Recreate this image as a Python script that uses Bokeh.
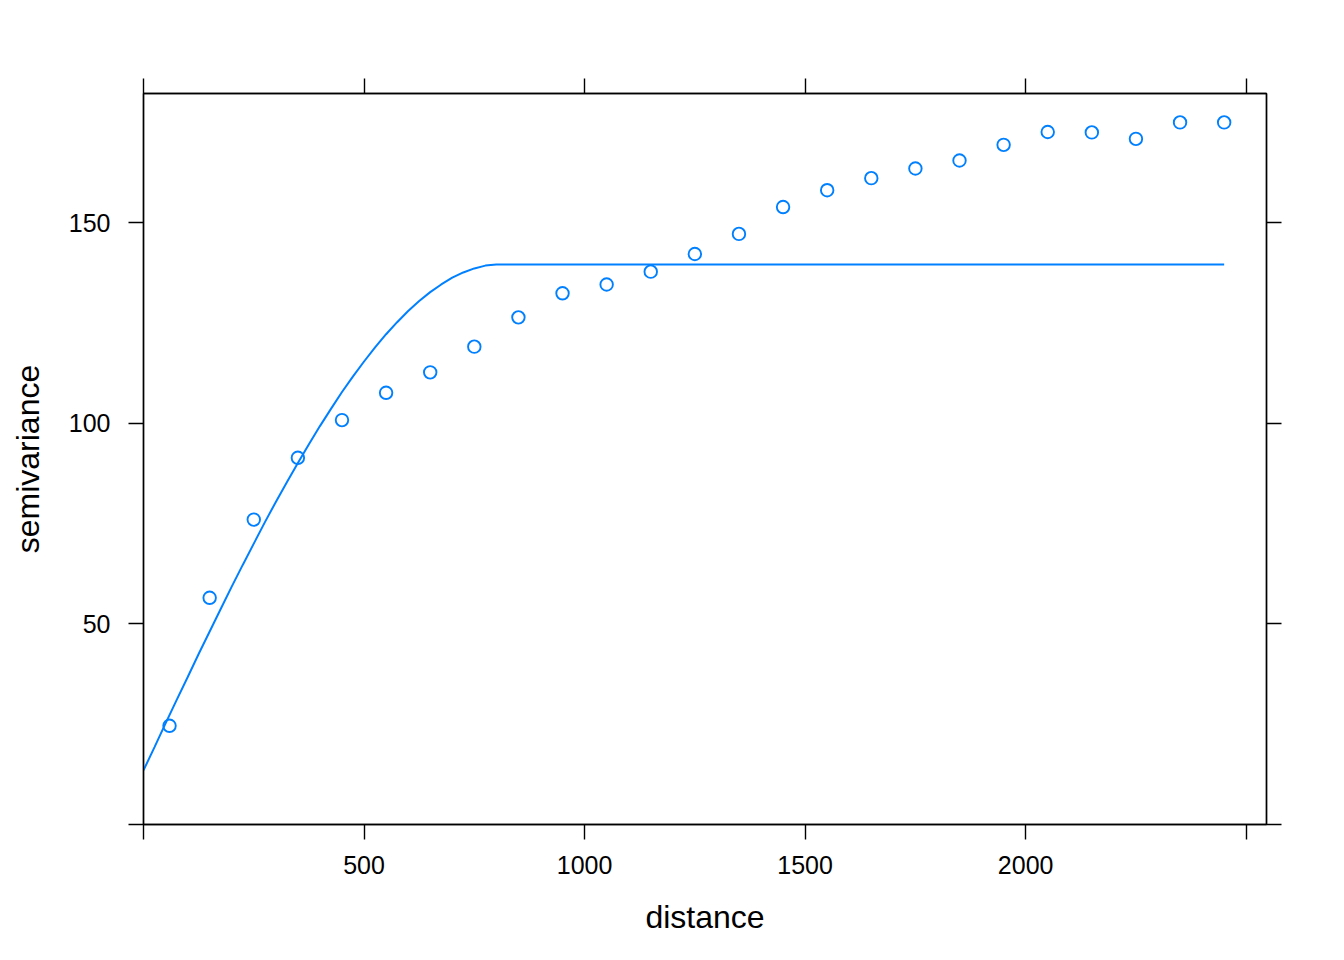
from bokeh.plotting import figure
from bokeh.models import Range1d, LinearAxis, FixedTicker
from bokeh.embed import file_html
from bokeh.resources import INLINE

# Empirical variogram (points)
dist = [59, 150, 250, 350, 450, 550, 650, 750, 850, 950, 1050, 1150, 1250,
        1350, 1450, 1550, 1650, 1750, 1850, 1950, 2050, 2150, 2250, 2350, 2450]
gamma = [24.6, 56.5, 76.0, 91.4, 100.8, 107.6, 112.7, 119.1, 126.4, 132.4,
         134.6, 137.8, 142.2, 147.2, 153.9, 158.1, 161.1, 163.5, 165.5, 169.4,
         172.6, 172.5, 170.9, 175.0, 175.0]

# Fitted model curve
model_dist = [0, 25, 50, 75, 100, 125, 150, 175, 200, 225, 250, 275, 300,
              325, 350, 375, 400, 425, 450, 475, 500, 525, 550, 575, 600,
              625, 650, 675, 700, 725, 750, 775, 800, 810, 2450]
model_gamma = [13.5, 19.3, 25.2, 31.0, 36.7, 42.5, 48.1, 53.7, 59.3, 64.7,
               70.0, 75.3, 80.4, 85.3, 90.1, 94.8, 99.3, 103.6, 107.8, 111.7,
               115.4, 118.9, 122.2, 125.2, 128.0, 130.5, 132.7, 134.6, 136.3,
               137.6, 138.6, 139.3, 139.6, 139.6, 139.6]

x_ticks = [0, 500, 1000, 1500, 2000, 2500]
y_ticks = [0, 50, 100, 150]

BLUE = "#0080ff"
FONT = "Liberation Sans"

p = figure(width=1344, height=960, output_backend="svg", toolbar_location=None,
           x_range=Range1d(0, 2546), y_range=Range1d(0, 182.2),
           x_axis_label="distance", y_axis_label="semivariance",
           min_border_left=143, min_border_right=78,
           min_border_top=93, min_border_bottom=136)
p.grid.visible = False
p.outline_line_color = "black"
p.outline_line_width = 1.4
p.background_fill_color = "white"
p.border_fill_color = "white"

p.line(model_dist, model_gamma, line_color=BLUE, line_width=2)
p.scatter(dist, gamma, marker="circle", size=12.5, fill_color=None,
          line_color=BLUE, line_width=1.9)

def style(ax, ticks, overrides, show_labels=True):
    ax.ticker = FixedTicker(ticks=ticks)
    ax.major_label_overrides = overrides
    ax.minor_tick_line_color = None
    ax.major_tick_in = 0
    ax.major_tick_out = 15
    ax.major_tick_line_color = "black"
    ax.major_tick_line_width = 1.4
    ax.axis_line_color = "black"
    ax.axis_line_width = 1.4
    ax.major_label_text_font = FONT
    ax.major_label_text_font_size = "25px" if show_labels else "0px"
    ax.major_label_text_color = "black"
    ax.axis_label_text_font = FONT
    ax.axis_label_text_font_size = "32px"
    ax.axis_label_text_font_style = "normal"
    ax.axis_label_text_color = "black"

xo = {0: "", 2500: ""}
yo = {0: ""}
style(p.xaxis[0], x_ticks, xo)
p.xaxis[0].major_label_standoff = 16
p.xaxis[0].axis_label_standoff = 22
style(p.yaxis[0], y_ticks, yo)
p.yaxis[0].major_label_standoff = 18
p.yaxis[0].axis_label_standoff = 20

top = LinearAxis()
style(top, x_ticks, {t: "" for t in x_ticks}, show_labels=False)
p.add_layout(top, "above")
right = LinearAxis()
style(right, y_ticks, {t: "" for t in y_ticks}, show_labels=False)
p.add_layout(right, "right")

open("out.html", "w").write(file_html(p, INLINE))
